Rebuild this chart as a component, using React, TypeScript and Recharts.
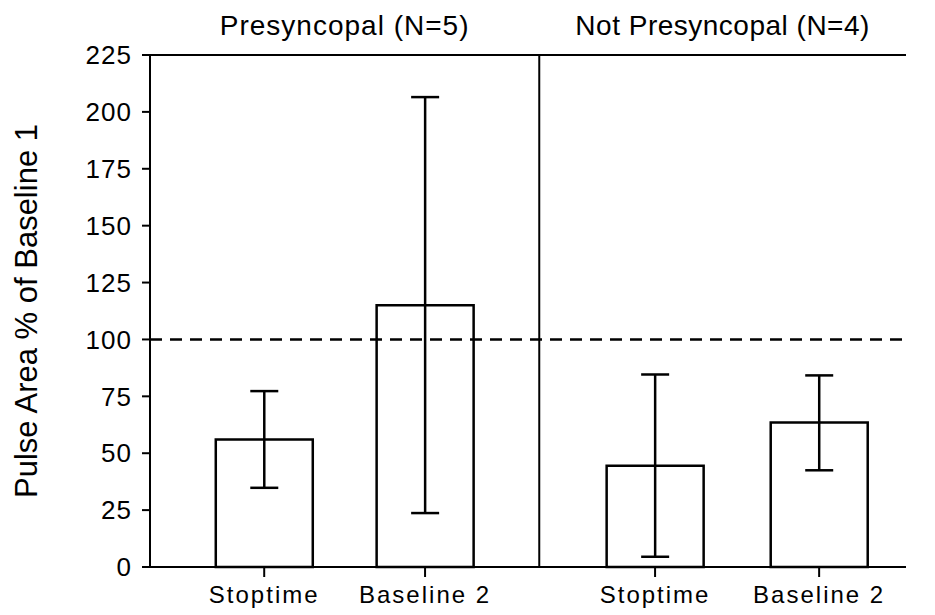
import React from 'react';
import { ComposedChart, Bar, XAxis, YAxis, ErrorBar, ReferenceLine } from 'recharts';

const categories = ['Stoptime', 'Baseline 2', 'Stoptime', 'Baseline 2'];
const positions = [1, 2, 3.43, 4.45];
const means = [56, 115, 44.5, 63.5];
const lowers = [34.8, 23.7, 4.5, 42.5];
const uppers = [77.3, 206.5, 84.6, 84.2];
const yTicks = [0, 25, 50, 75, 100, 125, 150, 175, 200, 225];
const panelTitles = ['Presyncopal (N=5)', 'Not Presyncopal (N=4)'];
const xDomain: [number, number] = [0.29, 4.99];
const dividerX = 2.71;
const baselineRef = 100;

const data = categories.map((c, i) => ({
  name: c,
  pos: positions[i],
  mean: means[i],
  err: [means[i] - lowers[i], uppers[i] - means[i]],
}));

const FONT = '"Liberation Sans", Arial, sans-serif';

const labelFor = (v: number) => {
  const i = positions.indexOf(v);
  return i >= 0 ? categories[i] : '';
};

const YLabel = (props: any) => {
  const vb = props.viewBox || {};
  const cx = 18;
  const cy = vb.y + vb.height / 2;
  return (
    <text
      x={cx}
      y={cy}
      transform={`rotate(-90, ${cx}, ${cy})`}
      textAnchor="middle"
      dominantBaseline="central"
      fontFamily={FONT}
      fontSize={31}
      fill="#000"
    >
      Pulse Area % of Baseline 1
    </text>
  );
};

export default function App() {
  return (
    <ComposedChart
      width={920}
      height={600}
      data={data}
      margin={{ top: 47, right: 22, left: 2, bottom: 6 }}
    >
      <XAxis
        type="number"
        dataKey="pos"
        domain={xDomain}
        ticks={positions}
        tickFormatter={labelFor}
        allowDataOverflow
        height={35}
        tickSize={10}
        tickMargin={9}
        axisLine={{ stroke: '#000', strokeWidth: 2 }}
        tickLine={{ stroke: '#000', strokeWidth: 2 }}
        tick={{ fill: '#000', fontSize: 24, fontFamily: FONT, letterSpacing: 2 }}
      />
      <YAxis
        type="number"
        domain={[0, 225]}
        ticks={yTicks}
        width={140}
        tickSize={8}
        tickMargin={10}
        axisLine={{ stroke: '#000', strokeWidth: 2 }}
        tickLine={{ stroke: '#000', strokeWidth: 2 }}
        tick={{ fill: '#000', fontSize: 26, fontFamily: FONT, letterSpacing: 1 }}
        label={<YLabel />}
      />
      <ReferenceLine y={225} stroke="#000" strokeWidth={2} />
      <ReferenceLine y={baselineRef} stroke="#000" strokeWidth={2.5} strokeDasharray="12 8" />
      <ReferenceLine x={dividerX} stroke="#000" strokeWidth={2} />
      <ReferenceLine
        x={(xDomain[0] + dividerX) / 2}
        stroke="none"
        label={{ value: panelTitles[0], position: 'top', offset: 20, fill: '#000', fontSize: 28, fontFamily: FONT, letterSpacing: 1 }}
      />
      <ReferenceLine
        x={(dividerX + xDomain[1]) / 2}
        stroke="none"
        label={{ value: panelTitles[1], position: 'top', offset: 20, fill: '#000', fontSize: 28, fontFamily: FONT, letterSpacing: 0.5 }}
      />
      <Bar dataKey="mean" fill="#fff" stroke="#000" strokeWidth={2.5} barSize={97} isAnimationActive={false}>
        <ErrorBar dataKey="err" width={14} stroke="#000" strokeWidth={2.5} direction="y" isAnimationActive={false} />
      </Bar>
    </ComposedChart>
  );
}
